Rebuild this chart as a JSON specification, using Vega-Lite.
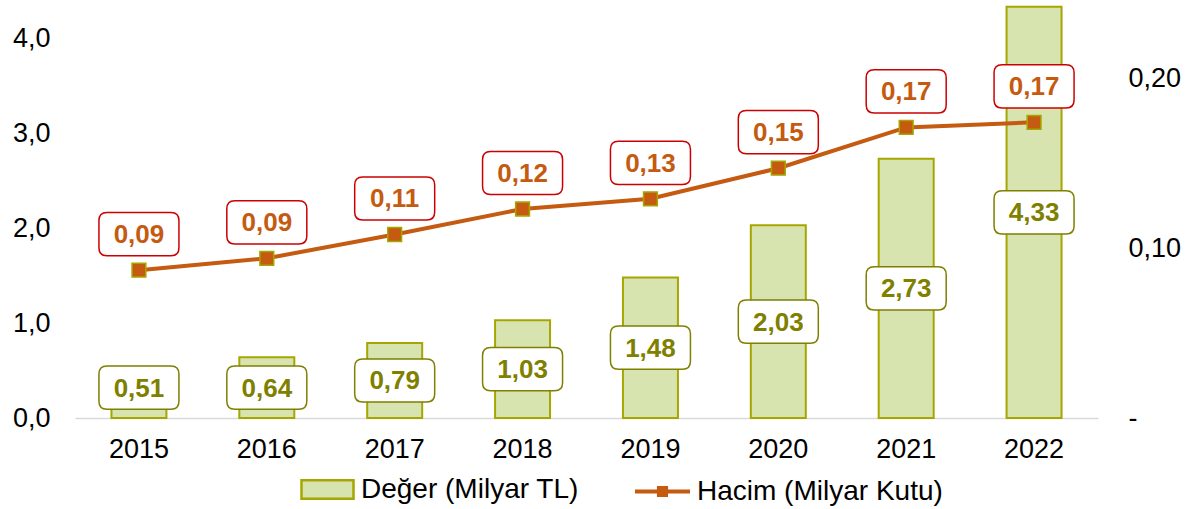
{
  "$schema": "https://vega.github.io/schema/vega-lite/v6.json",
  "autosize": "none",
  "width": 1023,
  "height": 418,
  "padding": {"left": 75, "top": 0, "right": 92, "bottom": 91},
  "background": "#ffffff",
  "config": {
    "locale": {"number": {"decimal": ",", "thousands": ".", "grouping": [3], "currency": ["", " TL"]}},
    "font": "Liberation Sans",
    "view": {"stroke": null},
    "axis": {"labelFont": "Liberation Sans", "labelFontSize": 27, "labelColor": "#000000", "grid": false, "ticks": false, "title": null},
    "legend": {
      "orient": "none",
      "title": null,
      "labelFont": "Liberation Sans",
      "labelFontSize": 28,
      "labelColor": "#000000",
      "labelLimit": 500,
      "padding": 0
    }
  },
  "data": {
    "values": [
      {"year": "2015", "deger": 0.51, "hacim": 0.087},
      {"year": "2016", "deger": 0.64, "hacim": 0.094},
      {"year": "2017", "deger": 0.79, "hacim": 0.108},
      {"year": "2018", "deger": 1.03, "hacim": 0.123},
      {"year": "2019", "deger": 1.48, "hacim": 0.129},
      {"year": "2020", "deger": 2.03, "hacim": 0.147},
      {"year": "2021", "deger": 2.73, "hacim": 0.171},
      {"year": "2022", "deger": 4.33, "hacim": 0.174}
    ]
  },
  "transform": [{"calculate": "max(datum.deger / 2, 0.32)", "as": "mid"}],
  "encoding": {
    "x": {
      "field": "year", "type": "ordinal",
      "scale": {"paddingInner": 0.57, "paddingOuter": 0.285},
      "axis": {"labelAngle": 0, "domainColor": "#d9d9d9", "domainWidth": 1.5, "labelPadding": 18}
    }
  },
  "layer": [
    {
      "layer": [
        {
          "mark": {"type": "bar", "stroke": "#a6a600", "strokeWidth": 2},
          "encoding": {
            "y": {"field": "deger", "type": "quantitative", "scale": {"domain": [0, 4.4], "nice": false}, "axis": {"orient": "left", "values": [0, 1, 2, 3, 4], "format": ".1f", "domain": false, "labelPadding": 25}},
            "fill": {
              "datum": "Değer (Milyar TL)",
              "scale": {"range": ["#d7e4b0"]},
              "legend": {"legendX": 225, "legendY": 462, "symbolType": "M-1,-0.36H1V0.36H-1Z", "symbolSize": 2704, "symbolStrokeColor": "#a6a600", "symbolStrokeWidth": 2.5, "labelOffset": 6}
            }
          }
        },
        {
          "mark": {"type": "point", "shape": "M-0.8,-0.54L0.8,-0.54Q1,-0.54 1,-0.34L1,0.34Q1,0.54 0.8,0.54L-0.8,0.54Q-1,0.54 -1,0.34L-1,-0.34Q-1,-0.54 -0.8,-0.54Z", "size": 6400, "filled": true, "fill": "#ffffff", "stroke": "#7f7f00", "strokeWidth": 1.5, "opacity": 1},
          "encoding": {"y": {"field": "mid", "type": "quantitative", "scale": {"domain": [0, 4.4], "nice": false}, "axis": {"orient": "left", "values": [0, 1, 2, 3, 4], "format": ".1f", "domain": false, "labelPadding": 25}}}
        },
        {
          "mark": {"type": "text", "fontSize": 26, "fontWeight": "bold", "color": "#7f7f00", "baseline": "middle", "dy": 1},
          "encoding": {
            "y": {"field": "mid", "type": "quantitative", "scale": {"domain": [0, 4.4], "nice": false}, "axis": {"orient": "left", "values": [0, 1, 2, 3, 4], "format": ".1f", "domain": false, "labelPadding": 25}},
            "text": {"field": "deger", "type": "quantitative", "format": ".2f"}
          }
        }
      ]
    },
    {
      "layer": [
        {
          "mark": {"type": "line", "strokeWidth": 4},
          "encoding": {
            "y": {"field": "hacim", "type": "quantitative", "scale": {"domain": [0, 0.246], "nice": false}, "axis": {"orient": "right", "values": [0, 0.1, 0.2], "format": ".2f", "labelExpr": "datum.value == 0 ? '-' : datum.label", "domain": false, "labelPadding": 30}},
            "stroke": {
              "datum": "Hacim (Milyar Kutu)",
              "scale": {"range": ["#c55a11"]},
              "legend": {"legendX": 558, "legendY": 462, "symbolType": "M-1,0H1M-0.13,-0.13H0.13V0.13H-0.13Z", "symbolSize": 3025, "symbolStrokeWidth": 4, "symbolFillColor": "#c55a11", "labelOffset": 5}
            }
          }
        },
        {
          "mark": {"type": "point", "shape": "square", "size": 190, "filled": true, "fill": "#c55a11", "stroke": "#a6a600", "strokeWidth": 1.5, "opacity": 1},
          "encoding": {"y": {"field": "hacim", "type": "quantitative", "scale": {"domain": [0, 0.246], "nice": false}, "axis": {"orient": "right", "values": [0, 0.1, 0.2], "format": ".2f", "labelExpr": "datum.value == 0 ? '-' : datum.label", "domain": false, "labelPadding": 30}}}
        },
        {
          "mark": {"type": "point", "shape": "M-0.8,-0.54L0.8,-0.54Q1,-0.54 1,-0.34L1,0.34Q1,0.54 0.8,0.54L-0.8,0.54Q-1,0.54 -1,0.34L-1,-0.34Q-1,-0.54 -0.8,-0.54Z", "size": 6400, "filled": true, "fill": "#ffffff", "stroke": "#cc0000", "strokeWidth": 1.5, "opacity": 1, "yOffset": -36},
          "encoding": {"y": {"field": "hacim", "type": "quantitative", "scale": {"domain": [0, 0.246], "nice": false}, "axis": {"orient": "right", "values": [0, 0.1, 0.2], "format": ".2f", "labelExpr": "datum.value == 0 ? '-' : datum.label", "domain": false, "labelPadding": 30}}}
        },
        {
          "mark": {"type": "text", "fontSize": 26, "fontWeight": "bold", "color": "#c55a11", "baseline": "middle", "dy": 1, "yOffset": -36},
          "encoding": {
            "y": {"field": "hacim", "type": "quantitative", "scale": {"domain": [0, 0.246], "nice": false}, "axis": {"orient": "right", "values": [0, 0.1, 0.2], "format": ".2f", "labelExpr": "datum.value == 0 ? '-' : datum.label", "domain": false, "labelPadding": 30}},
            "text": {"field": "hacim", "type": "quantitative", "format": ".2f"}
          }
        }
      ]
    }
  ],
  "resolve": {"scale": {"y": "independent"}}
}
